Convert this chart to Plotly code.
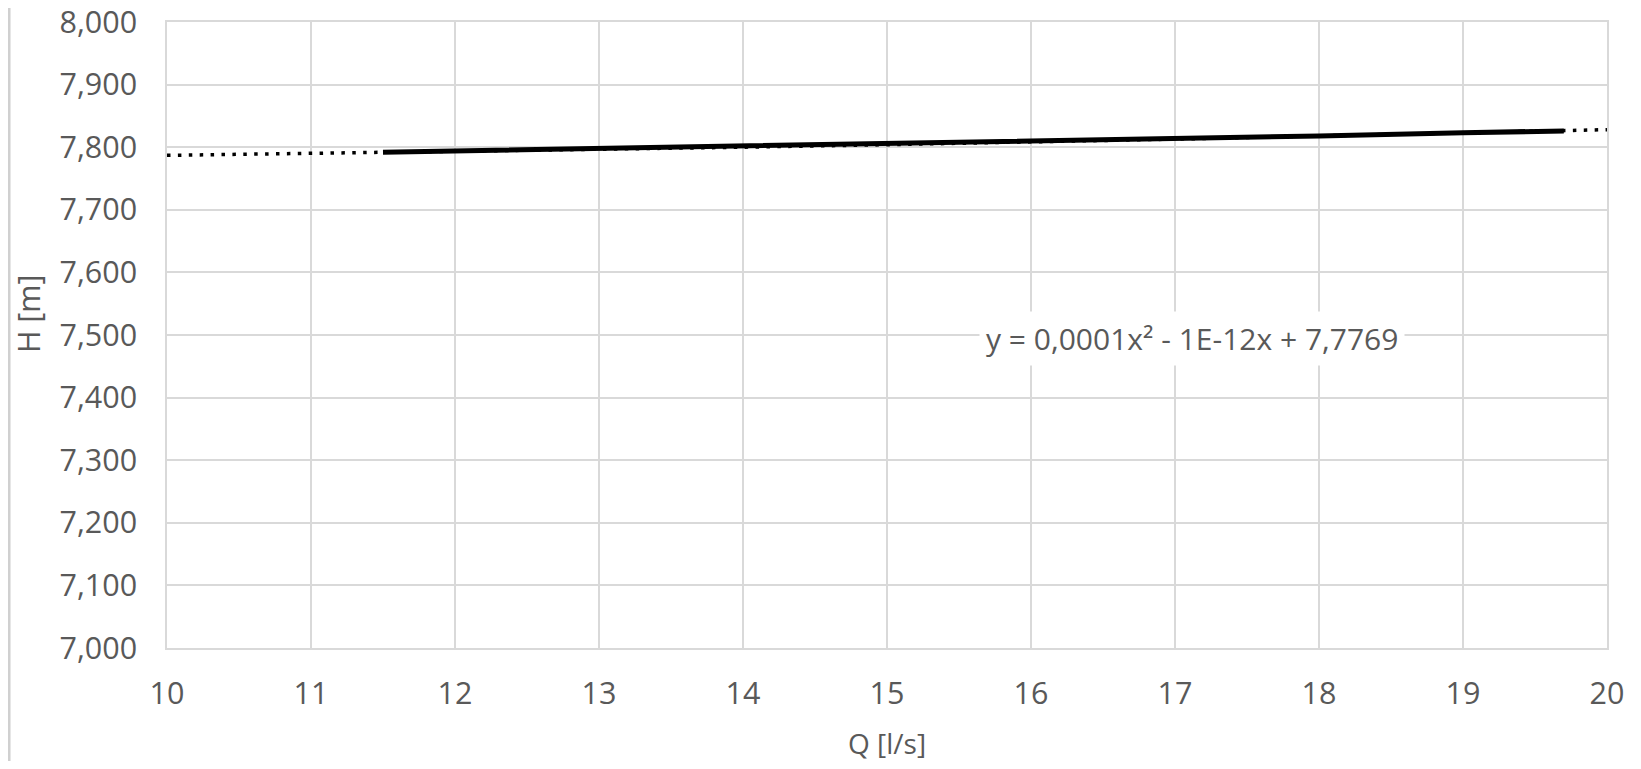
import plotly.graph_objects as go

# Measured data (Q [l/s], H [m])
q_data = [11.5, 12, 13, 14, 15, 16, 17, 18, 19, 19.7]
h_data = [7.792, 7.794, 7.797, 7.801, 7.805, 7.809, 7.814, 7.818, 7.823, 7.826]

# Polynomial trend line
q_trend = [10, 11, 12, 13, 14, 15, 16, 17, 18, 19, 20]
h_trend = [7.787, 7.790, 7.793, 7.796, 7.800, 7.804, 7.808, 7.813, 7.818, 7.823, 7.828]

equation = "y = 0,0001x\u00b2 - 1E-12x + 7,7769"
x_ticks = list(range(10, 21))
y_ticks = [7.0, 7.1, 7.2, 7.3, 7.4, 7.5, 7.6, 7.7, 7.8, 7.9, 8.0]

FONT = "Open Sans"
GRAY = "#595959"
GRID = "#d9d9d9"
FS = 30.5

fig = go.Figure()
fig.add_trace(go.Scatter(x=q_data, y=h_data, mode="lines",
                         line=dict(color="black", width=5), showlegend=False))
fig.add_trace(go.Scatter(x=q_trend, y=h_trend, mode="lines",
                         line=dict(color="black", width=3.5, dash="3.5px,7.4px"),
                         showlegend=False))

fig.update_layout(
    width=1625, height=753,
    margin=dict(l=159, r=26, t=14, b=113),
    paper_bgcolor="white", plot_bgcolor="white",
    separators=", ",
    font=dict(family=FONT, size=FS, color=GRAY),
    xaxis=dict(range=[10, 20], tickvals=x_ticks, showgrid=True, gridcolor=GRID,
               gridwidth=1.5, zeroline=False, showline=True, linecolor=GRID,
               linewidth=1.5, mirror=True, ticks="", ticklabelstandoff=18,
               automargin=False, ticklabeloverflow="allow",
               tickfont=dict(family=FONT, size=FS, color=GRAY)),
    yaxis=dict(range=[7.0, 8.0], tickvals=y_ticks, tickformat=".3f", showgrid=True,
               gridcolor=GRID, gridwidth=1.5, zeroline=False, showline=True,
               linecolor=GRID, linewidth=1.5, mirror=True, ticks="",
               ticklabelstandoff=22, automargin=False, ticklabeloverflow="allow",
               tickfont=dict(family=FONT, size=FS, color=GRAY)),
    annotations=[
        dict(text=equation, xref="x", yref="y", x=17.12, y=7.495, showarrow=False,
             xanchor="center", yanchor="middle",
             bgcolor="white", font=dict(family=FONT, size=30, color=GRAY),
             borderpad=6),
        dict(text="H [m]", xref="paper", yref="paper", x=-0.0965, y=0.5335,
             xanchor="center", yanchor="middle",
             showarrow=False, textangle=-90,
             font=dict(family=FONT, size=FS, color=GRAY)),
        dict(text="Q [l/s]", xref="paper", yref="paper", x=0.5, y=-0.152,
             xanchor="center", yanchor="middle",
             showarrow=False, font=dict(family=FONT, size=28, color=GRAY)),
    ],
    shapes=[dict(type="line", xref="paper", yref="paper", x0=-0.1097, x1=-0.1097,
                 y0=-0.2, y1=1.03, line=dict(color="#d0d0d0", width=3))],
)

fig.write_html("out.html")
